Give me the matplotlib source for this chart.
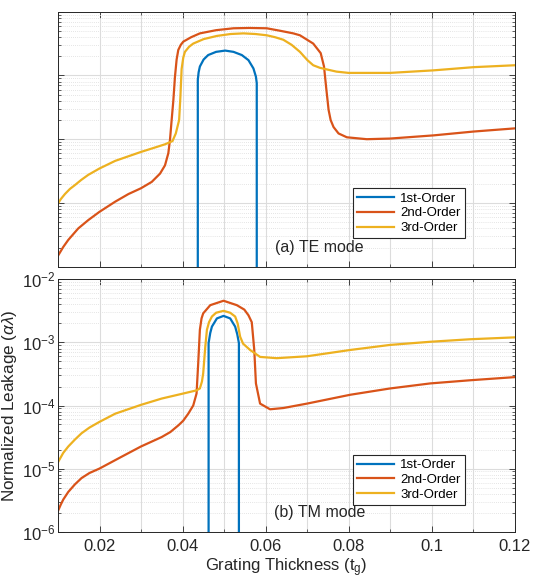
import numpy as np
import matplotlib
matplotlib.use("Agg")
import matplotlib.pyplot as plt
from matplotlib.ticker import LogLocator, MultipleLocator, NullFormatter, FixedLocator

plt.rcParams['font.family'] = ['Liberation Sans', 'DejaVu Sans']
plt.rcParams['mathtext.fontset'] = 'custom'
plt.rcParams['mathtext.rm'] = 'Liberation Sans'
plt.rcParams['mathtext.it'] = 'Liberation Sans:italic'

series_names = ['1st-Order', '2nd-Order', '3rd-Order']
colors = ['#0072BD', '#D95319', '#EDB120']

# ---- (a) TE mode : x and log10(leakage) ----
te_1st_x = [0.0436, 0.0436, 0.0438, 0.0441, 0.0450, 0.0461, 0.0480, 0.0502, 0.0522, 0.0542, 0.0558, 0.0570, 0.0576, 0.0578, 0.0578]
te_1st_log = [-12, -3.07, -2.95, -2.86, -2.75, -2.68, -2.63, -2.61, -2.63, -2.68, -2.76, -2.89, -3.02, -3.12, -12]

te_2nd_x = [0.010, 0.0112, 0.0124, 0.0148, 0.0172, 0.0199, 0.0237, 0.0269, 0.0299, 0.0325, 0.0345, 0.0357, 0.0365, 0.0369,
            0.0373, 0.0377, 0.0381, 0.0385, 0.0389, 0.0395, 0.0401, 0.0420, 0.0441, 0.048, 0.0522, 0.056, 0.0602,
            0.0635, 0.0666, 0.0682, 0.0714, 0.0732, 0.0740, 0.0745, 0.0751, 0.0756, 0.0763, 0.0775, 0.0795, 0.0843,
            0.0899, 0.1004, 0.110, 0.120]
te_2nd_log = [-5.82, -5.69, -5.58, -5.40, -5.27, -5.14, -4.98, -4.86, -4.77, -4.67, -4.54, -4.41, -4.22, -4.01,
              -3.70, -3.40, -3.02, -2.75, -2.60, -2.52, -2.47, -2.40, -2.34, -2.29, -2.26, -2.255, -2.26,
              -2.30, -2.34, -2.37, -2.50, -2.65, -2.86, -3.18, -3.54, -3.70, -3.81, -3.91, -3.97, -4.00,
              -3.99, -3.94, -3.88, -3.83]

te_3rd_x = [0.010, 0.0106, 0.0116, 0.0128, 0.0140, 0.0155, 0.0172, 0.0199, 0.0237, 0.0299, 0.0333, 0.0357, 0.0375, 0.0383,
            0.0391, 0.0394, 0.0397, 0.0401, 0.0405, 0.0415, 0.0425, 0.045, 0.0482, 0.0515, 0.0546, 0.0575, 0.0602,
            0.0622, 0.0642, 0.0662, 0.0682, 0.0700, 0.0714, 0.0730, 0.0743, 0.0770, 0.0799, 0.0899, 0.1004, 0.110,
            0.120]
te_3rd_log = [-5.00, -4.94, -4.86, -4.78, -4.72, -4.64, -4.56, -4.46, -4.34, -4.20, -4.13, -4.08, -4.03, -3.91,
              -3.70, -3.35, -2.90, -2.72, -2.63, -2.55, -2.50, -2.43, -2.38, -2.35, -2.34, -2.35, -2.37,
              -2.40, -2.44, -2.52, -2.63, -2.76, -2.84, -2.88, -2.90, -2.94, -2.96, -2.96, -2.92, -2.87,
              -2.84]

# ---- (b) TM mode ----
tm_1st_x = [0.0462, 0.0462, 0.0466, 0.0470, 0.0482, 0.0498, 0.0514, 0.0526, 0.0531, 0.0535, 0.0535]
tm_1st_log = [-12, -3.01, -2.85, -2.75, -2.62, -2.58, -2.62, -2.75, -2.87, -3.01, -12]

tm_2nd_x = [0.010, 0.0106, 0.0112, 0.0124, 0.0140, 0.0156, 0.0175, 0.0199, 0.0253, 0.0299, 0.0349, 0.0370, 0.0390,
            0.0401, 0.0413, 0.0425, 0.0433, 0.0437, 0.0441, 0.0445, 0.0449, 0.0466, 0.0498, 0.0530, 0.0548, 0.0558,
            0.0566, 0.0572, 0.0576, 0.0586, 0.0610, 0.0642, 0.0699, 0.0803, 0.0899, 0.0996, 0.1092, 0.120]
tm_2nd_log = [-5.66, -5.57, -5.49, -5.37, -5.25, -5.15, -5.07, -5.00, -4.81, -4.65, -4.50, -4.42, -4.31,
              -4.24, -4.13, -4.00, -3.81, -3.33, -2.80, -2.62, -2.54, -2.41, -2.34, -2.41, -2.48, -2.57,
              -2.68, -3.12, -3.65, -3.97, -4.06, -4.04, -3.97, -3.83, -3.73, -3.65, -3.60, -3.55]

tm_3rd_x = [0.010, 0.0106, 0.0112, 0.0124, 0.0140, 0.0156, 0.0175, 0.0199, 0.0237, 0.0299, 0.0349, 0.0401, 0.0433,
            0.0441, 0.0446, 0.0449, 0.0454, 0.0458, 0.0463, 0.0470, 0.0480, 0.0498, 0.0514, 0.0526, 0.0532, 0.0538,
            0.0545, 0.0562, 0.0586, 0.0626, 0.0699, 0.0803, 0.0899, 0.0996, 0.1092, 0.120]
tm_3rd_log = [-4.89, -4.82, -4.75, -4.65, -4.54, -4.44, -4.35, -4.26, -4.13, -3.99, -3.89, -3.81, -3.76,
              -3.73, -3.62, -3.49, -3.07, -2.80, -2.68, -2.59, -2.53, -2.50, -2.53, -2.59, -2.70, -2.91,
              -3.02, -3.12, -3.23, -3.25, -3.22, -3.12, -3.04, -2.99, -2.95, -2.92]

x_tick_values = [0.02, 0.04, 0.06, 0.08, 0.1, 0.12]
x_tick_labels = ['0.02', '0.04', '0.06', '0.08', '0.1', '0.12']

fig = plt.figure(figsize=(5.4, 5.78), dpi=100)
W, H = 540, 578
ax_top = fig.add_axes([58.3 / W, 1 - 266.7 / H, 456.7 / W, 255 / H])
ax_bot = fig.add_axes([58.3 / W, 1 - 531.7 / H, 456.7 / W, 252.4 / H])


def style(ax, show_labels):
    ax.set_yscale('log')
    ax.set_xlim(0.01, 0.12)
    ax.set_ylim(1e-6, 1e-2)
    ax.xaxis.set_major_locator(FixedLocator(x_tick_values))
    ax.xaxis.set_minor_locator(MultipleLocator(0.01))
    ax.yaxis.set_major_locator(LogLocator(base=10, numticks=10))
    ax.yaxis.set_minor_locator(LogLocator(base=10, subs=np.arange(2, 10), numticks=20))
    ax.yaxis.set_minor_formatter(NullFormatter())
    ax.grid(True, which='major', axis='both', color='#dcdcdc', linewidth=0.8, linestyle='-')
    ax.grid(True, which='minor', axis='x', color='#dcdcdc', linewidth=0.8, linestyle='-')
    ax.grid(True, which='minor', axis='y', color='#dcdcdc', linewidth=0.6, linestyle=(0, (1, 1.5)))
    ax.set_axisbelow(True)
    ax.tick_params(which='both', direction='in', top=True, right=True, colors='#262626',
                   labelsize=12, labelcolor='#262626')
    ax.tick_params(axis='y', which='major', pad=2)
    ax.tick_params(axis='x', which='major', pad=5)
    ax.tick_params(which='major', length=4, width=0.6)
    ax.tick_params(which='minor', length=2, width=0.5)
    for s in ax.spines.values():
        s.set_color('#262626')
        s.set_linewidth(0.7)
    if show_labels:
        ax.set_xticklabels(x_tick_labels)
    else:
        ax.set_xticklabels([])
        ax.yaxis.set_major_formatter(NullFormatter())


style(ax_top, False)
style(ax_bot, True)

te = [(te_1st_x, te_1st_log), (te_2nd_x, te_2nd_log), (te_3rd_x, te_3rd_log)]
tm = [(tm_1st_x, tm_1st_log), (tm_2nd_x, tm_2nd_log), (tm_3rd_x, tm_3rd_log)]

for ax, data in [(ax_top, te), (ax_bot, tm)]:
    for (xs, ls), c, name in zip(data, colors, series_names):
        ax.plot(xs, 10.0 ** np.array(ls), color=c, linewidth=1.6, label=name, solid_joinstyle='round')

for ax, ytop in [(ax_top, 0.307), (ax_bot, 0.304)]:
    leg = ax.legend(loc='upper left', bbox_to_anchor=(0.645, ytop), fontsize=9.5, frameon=True,
                    fancybox=False, edgecolor='#262626', framealpha=1, handlelength=2.8,
                    borderpad=0.3, labelspacing=0.2, handletextpad=0.5, borderaxespad=0)
    leg.get_frame().set_linewidth(0.8)

ax_top.text(0.572, 0.045, '(a) TE mode', transform=ax_top.transAxes, ha='center', va='bottom',
            fontsize=11.5, color='#262626')
ax_bot.text(0.572, 0.045, '(b) TM mode', transform=ax_bot.transAxes, ha='center', va='bottom',
            fontsize=11.5, color='#262626')

ax_bot.set_ylabel(r'Normalized Leakage ($\alpha\lambda$)', fontsize=12.3, color='#262626')
ax_bot.yaxis.set_label_coords(-0.085, 0.5)
ax_bot.set_xlabel(r'Grating Thickness (t$_\mathrm{g}$)', fontsize=12, color='#262626')
ax_bot.xaxis.set_label_coords(0.5, -0.097)

fig.savefig('out.png', dpi=100)
